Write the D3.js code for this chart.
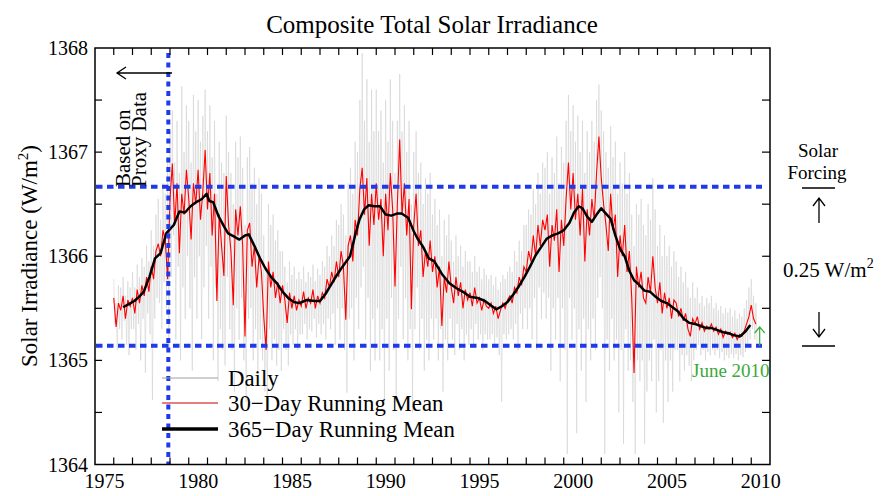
<!DOCTYPE html>
<html><head><meta charset="utf-8">
<script src="https://cdn.jsdelivr.net/npm/d3@7"></script>
<style>
body{margin:0;background:#fff}
svg{display:block}
text{font-family:"Liberation Serif","Times New Roman",serif;fill:#000}
</style>
</head><body>
<svg id="chart" width="884" height="496"></svg>
<script>
// ---------------- data ----------------
const xLabelYears = [1975, 1980, 1985, 1990, 1995, 2000, 2005, 2010];
const yLabelValues = [1364, 1365, 1366, 1367, 1368];
const titleText = "Composite Total Solar Irradiance";
const legendLabels = ["Daily", "30\u2212Day Running Mean", "365\u2212Day Running Mean"];

// samples of 30-day running mean and daily high/low, every 1/8 year from 1976.0
const sampleStart = 1976.0;
const sampleStep = 0.125;
const runMean30 = [
1365.60,1365.32,1365.55,1365.48,1365.62,1365.40,1365.58,1365.52,
1365.60,1365.45,1365.68,1365.55,1365.72,1365.62,1365.80,1365.66,
1365.90,1365.78,1366.05,1366.12,1366.00,1366.25,1366.15,1365.78,
1366.55,1366.89,1366.30,1366.70,1366.03,1366.60,1366.40,1366.83,
1366.55,1366.16,1366.70,1366.50,1366.83,1366.35,1366.62,1367.02,
1366.45,1366.80,1366.20,1366.60,1365.57,1366.40,1366.10,1365.81,
1366.77,1366.30,1366.05,1365.53,1366.45,1366.20,1366.48,1366.10,
1365.23,1366.25,1366.32,1365.90,1366.10,1365.70,1366.00,1365.85,
1365.42,1365.10,1365.95,1365.70,1365.85,1365.60,1365.75,1365.55,
1365.72,1365.58,1365.36,1365.65,1365.50,1365.62,1365.48,1365.58,
1365.52,1365.66,1365.50,1365.60,1365.55,1365.68,1365.50,1365.62,
1365.55,1365.65,1365.60,1365.78,1365.70,1365.85,1365.75,1365.95,
1365.80,1366.05,1365.90,1365.39,1366.10,1366.20,1365.95,1366.35,
1366.20,1366.65,1366.85,1366.40,1366.75,1366.10,1366.60,1366.30,
1366.70,1366.35,1366.55,1366.00,1366.60,1366.25,1366.80,1366.45,
1365.71,1366.50,1367.12,1366.40,1366.70,1366.20,1366.55,1365.49,
1366.30,1366.60,1366.10,1366.25,1365.80,1366.05,1365.90,1366.15,
1365.85,1366.00,1365.70,1365.90,1365.33,1365.80,1365.65,1365.95,
1365.70,1365.55,1365.80,1365.62,1365.75,1365.50,1365.68,1365.58,
1365.65,1365.52,1365.70,1365.55,1365.60,1365.48,1365.58,1365.52,
1365.50,1365.55,1365.45,1365.52,1365.40,1365.48,1365.55,1365.50,
1365.58,1365.62,1365.55,1365.70,1365.65,1365.80,1365.72,1365.90,
1365.85,1366.05,1365.95,1366.20,1366.00,1366.30,1366.10,1366.35,
1366.25,1366.40,1365.90,1366.30,1366.15,1366.45,1365.85,1366.35,
1366.10,1366.55,1366.90,1366.45,1366.80,1366.35,1366.60,1366.20,
1366.65,1365.95,1366.45,1366.20,1366.55,1366.35,1366.80,1367.15,
1366.75,1366.50,1366.30,1366.05,1366.60,1366.25,1366.40,1365.80,
1366.20,1366.00,1366.30,1365.85,1366.05,1365.60,1364.88,1365.90,
1365.70,1365.85,1365.60,1365.55,1365.80,1365.65,1366.00,1365.70,
1365.55,1365.75,1365.45,1365.65,1365.50,1365.60,1365.40,1365.58,
1365.55,1365.42,1365.50,1365.38,1365.45,1365.30,1365.23,1365.40,
1365.35,1365.42,1365.30,1365.36,1365.28,1365.33,1365.30,1365.35,
1365.28,1365.32,1365.25,1365.30,1365.22,1365.28,1365.25,1365.27,
1365.22,1365.26,1365.20,1365.25,1365.23,1365.28,1365.35,1365.42,
1365.53,1365.40,1365.35
];
const dailyHigh = [
1365.78,1365.55,1365.72,1365.70,1365.80,1365.62,1365.76,1365.70,
1365.85,1365.70,1365.92,1365.80,1365.98,1365.90,1366.10,1365.95,
1366.25,1366.10,1366.40,1366.55,1366.35,1366.70,1366.60,1366.95,
1367.20,1367.40,1366.90,1367.30,1366.80,1367.63,1367.00,1367.45,
1367.30,1366.90,1367.55,1367.20,1367.50,1367.10,1367.35,1367.60,
1367.20,1367.45,1366.95,1367.30,1366.60,1367.10,1366.90,1366.80,
1367.35,1367.00,1366.80,1366.50,1367.10,1366.95,1367.15,1366.85,
1366.30,1366.95,1367.05,1366.70,1366.85,1366.50,1366.75,1366.60,
1366.20,1365.90,1366.50,1366.30,1366.40,1366.15,1366.25,1366.05,
1366.05,1365.90,1365.75,1365.95,1365.82,1365.90,1365.78,1365.85,
1365.78,1365.90,1365.75,1365.85,1365.80,1365.92,1365.76,1365.88,
1365.82,1365.95,1365.90,1366.10,1366.00,1366.20,1366.10,1366.35,
1366.30,1366.50,1366.40,1366.20,1366.70,1366.85,1366.60,1367.10,
1367.00,1367.50,1367.95,1367.30,1367.70,1367.10,1367.60,1367.20,
1367.60,1367.20,1367.40,1366.90,1367.50,1367.10,1367.70,1367.30,
1366.80,1367.30,1367.75,1367.20,1367.45,1367.00,1367.30,1366.50,
1367.00,1367.20,1366.80,1366.90,1366.50,1366.75,1366.60,1366.80,
1366.40,1366.55,1366.30,1366.45,1366.00,1366.35,1366.20,1366.40,
1366.15,1365.95,1366.20,1366.00,1366.10,1365.90,1366.05,1365.95,
1365.95,1365.85,1366.00,1365.85,1365.90,1365.78,1365.88,1365.82,
1365.78,1365.82,1365.72,1365.80,1365.68,1365.75,1365.82,1365.78,
1365.85,1365.90,1365.85,1366.05,1365.95,1366.15,1366.05,1366.30,
1366.30,1366.45,1366.40,1366.65,1366.50,1366.80,1366.60,1366.90,
1366.85,1367.00,1366.60,1366.95,1366.80,1367.15,1366.70,1367.05,
1366.90,1367.30,1367.55,1367.20,1367.45,1367.10,1367.35,1367.00,
1367.30,1366.80,1367.20,1367.00,1367.30,1367.10,1367.50,1367.65,
1367.40,1367.20,1367.00,1366.85,1367.25,1366.95,1367.10,1366.60,
1366.90,1366.70,1367.00,1366.60,1366.80,1366.40,1366.10,1366.50,
1366.40,1366.55,1366.30,1366.20,1366.50,1366.35,1366.75,1366.45,
1366.10,1366.30,1366.00,1366.20,1366.00,1366.10,1365.90,1366.05,
1365.95,1365.80,1365.90,1365.75,1365.85,1365.70,1365.60,1365.75,
1365.60,1365.70,1365.55,1365.62,1365.52,1365.60,1365.55,1365.62,
1365.50,1365.55,1365.48,1365.52,1365.45,1365.50,1365.46,1365.50,
1365.42,1365.48,1365.40,1365.45,1365.42,1365.50,1365.58,1365.70,
1365.78,1365.62,1365.55
];
const dailyLow = [
1365.35,1365.10,1365.30,1365.20,1365.38,1365.15,1365.05,1365.30,
1365.30,1365.10,1365.35,1365.00,1365.40,1364.88,1365.45,1365.25,
1364.62,1365.40,1365.60,1365.55,1365.30,1365.75,1365.50,1365.10,
1365.80,1366.20,1365.20,1365.90,1365.00,1365.70,1365.40,1366.00,
1365.50,1364.90,1365.80,1365.40,1366.00,1365.20,1365.70,1366.10,
1365.40,1365.90,1365.00,1365.70,1364.80,1365.30,1365.10,1364.95,
1365.80,1365.30,1365.10,1364.70,1365.50,1365.20,1365.60,1365.00,
1364.60,1365.40,1365.50,1365.00,1365.30,1364.90,1365.20,1365.00,
1364.70,1364.50,1365.30,1365.00,1365.20,1364.95,1365.10,1364.90,
1365.30,1365.10,1364.95,1365.25,1365.15,1365.30,1365.10,1365.25,
1365.25,1365.35,1365.20,1365.30,1365.28,1365.40,1365.22,1365.35,
1365.25,1365.35,1365.20,1365.40,1365.30,1365.45,1365.15,1365.50,
1365.20,1365.50,1365.10,1364.69,1365.40,1365.50,1365.00,1365.60,
1365.30,1365.70,1365.90,1365.20,1365.60,1364.90,1365.40,1365.00,
1365.50,1365.00,1365.30,1364.60,1365.40,1364.90,1365.60,1365.10,
1364.60,1365.40,1365.90,1365.20,1365.60,1365.00,1365.30,1364.50,
1365.30,1365.70,1365.10,1365.40,1364.90,1365.20,1365.00,1365.40,
1365.20,1365.40,1365.00,1365.30,1364.70,1365.20,1365.00,1365.40,
1365.20,1365.05,1365.35,1365.10,1365.30,1365.00,1365.25,1365.15,
1365.30,1365.15,1365.35,1365.20,1365.25,1365.10,1365.25,1365.20,
1365.20,1365.25,1365.15,1365.22,1365.05,1364.60,1365.25,1365.20,
1365.25,1365.30,1365.20,1365.35,1365.10,1365.45,1365.30,1365.50,
1365.30,1365.50,1365.20,1365.60,1365.10,1365.70,1365.40,1365.65,
1365.40,1365.60,1364.90,1365.50,1365.20,1365.60,1364.80,1365.50,
1365.10,1364.10,1365.60,1365.20,1365.50,1364.30,1365.30,1364.90,
1365.40,1364.60,1365.30,1365.00,1365.40,1365.10,1365.60,1365.80,
1365.50,1364.10,1365.20,1364.90,1365.40,1365.00,1365.20,1364.50,
1365.10,1364.20,1365.30,1364.90,1365.00,1364.60,1364.10,1365.00,
1364.80,1365.00,1364.20,1364.70,1365.00,1364.80,1365.20,1364.50,
1364.80,1365.10,1364.40,1365.00,1364.60,1365.00,1364.70,1365.10,
1365.10,1364.80,1365.05,1364.90,1365.05,1364.95,1364.80,1365.00,
1365.10,1365.15,1365.05,1365.10,1365.00,1365.08,1365.05,1365.10,
1365.05,1365.10,1365.02,1365.08,1365.00,1365.05,1365.02,1365.06,
1365.02,1365.06,1365.00,1365.05,1365.03,1365.08,1365.15,1365.20,
1365.30,1365.20,1365.15
];

// 365-day running mean
const mean365Years = [1976.5,1976.8,1977.1,1977.4,1977.6,1977.9,1978.2,1978.5,1978.8,1979.0,1979.2,1979.5,1979.8,1980.1,1980.4,1980.7,1980.95,1981.1,1981.3,1981.6,1981.9,1982.1,1982.4,1982.7,1983.0,1983.2,1983.5,1983.8,1984.1,1984.4,1984.7,1985.0,1985.3,1985.6,1985.9,1986.3,1986.7,1987.0,1987.3,1987.6,1987.9,1988.2,1988.6,1988.9,1989.1,1989.35,1989.6,1989.9,1990.2,1990.5,1990.8,1991.1,1991.35,1991.7,1992.0,1992.2,1992.5,1992.8,1993.1,1993.5,1993.9,1994.3,1994.7,1995.0,1995.4,1995.8,1996.1,1996.4,1996.7,1997.0,1997.3,1997.6,1997.9,1998.2,1998.5,1998.8,1999.1,1999.4,1999.7,2000.0,2000.3,2000.55,2000.8,2001.0,2001.25,2001.5,2001.75,2002.0,2002.25,2002.5,2002.75,2003.0,2003.25,2003.5,2003.75,2004.0,2004.3,2004.6,2004.9,2005.2,2005.5,2005.8,2006.1,2006.4,2006.7,2007.0,2007.3,2007.6,2007.9,2008.2,2008.5,2008.8,2009.1,2009.4,2009.7,2009.95];
const mean365Values = [1365.51,1365.54,1365.57,1365.62,1365.66,1365.80,1365.98,1366.03,1366.22,1366.26,1366.30,1366.43,1366.42,1366.48,1366.52,1366.55,1366.60,1366.53,1366.52,1366.38,1366.28,1366.22,1366.19,1366.16,1366.20,1366.21,1366.10,1365.98,1365.88,1365.80,1365.74,1365.66,1365.60,1365.56,1365.55,1365.58,1365.57,1365.57,1365.64,1365.73,1365.82,1365.90,1366.00,1366.22,1366.35,1366.45,1366.49,1366.48,1366.48,1366.40,1366.39,1366.41,1366.41,1366.37,1366.24,1366.17,1366.09,1365.98,1365.95,1365.83,1365.74,1365.69,1365.65,1365.61,1365.60,1365.57,1365.53,1365.49,1365.52,1365.56,1365.63,1365.71,1365.80,1365.90,1366.01,1366.09,1366.17,1366.20,1366.22,1366.25,1366.32,1366.42,1366.48,1366.46,1366.38,1366.33,1366.40,1366.46,1366.41,1366.36,1366.20,1366.07,1366.00,1365.86,1365.77,1365.73,1365.67,1365.66,1365.61,1365.57,1365.55,1365.51,1365.47,1365.40,1365.36,1365.35,1365.33,1365.31,1365.31,1365.29,1365.27,1365.26,1365.24,1365.23,1365.28,1365.34];

// reference lines
const proxyEndYear = 1978.91;
const forcingHigh = 1366.667;
const forcingLow = 1365.14;
const juneYear = 2010.45;

// ---------------- chart ----------------
const svg = d3.select("#chart");
const L = 95, R = 770, T = 48, B = 464.5;
const x = d3.scaleLinear().domain([1975, 2011]).range([L, R]);
const y = d3.scaleLinear().domain([1364, 1368]).range([B, T]);

svg.append("defs").append("clipPath").attr("id", "clip")
  .append("rect").attr("x", L).attr("y", T).attr("width", R - L).attr("height", B - T);

const plot = svg.append("g").attr("clip-path", "url(#clip)");

// daily: zigzag between high and low samples
const dailyPts = [];
dailyHigh.forEach((h, i) => {
  const t = sampleStart + i * sampleStep;
  dailyPts.push([t, h]);
  dailyPts.push([t + sampleStep / 2, dailyLow[i]]);
});
const line = d3.line().x(d => x(d[0])).y(d => y(d[1]));
plot.append("path").attr("d", line(dailyPts))
  .attr("fill", "none").attr("stroke", "#cfcfcf").attr("stroke-width", 0.55);

const redPts = runMean30.map((v, i) => [sampleStart + i * sampleStep, v]);
plot.append("path").attr("d", line(redPts))
  .attr("fill", "none").attr("stroke", "#ff0000").attr("stroke-width", 1.1);

const blackPts = mean365Years.map((t, i) => [t, mean365Values[i]]);
plot.append("path").attr("d", line(blackPts))
  .attr("fill", "none").attr("stroke", "#000").attr("stroke-width", 2.5)
  .attr("stroke-linejoin", "round");

// blue dotted lines
const blue = "#1f3ae6";
svg.append("line").attr("x1", x(proxyEndYear)).attr("x2", x(proxyEndYear))
  .attr("y1", T + 5).attr("y2", B)
  .attr("stroke", blue).attr("stroke-width", 4).attr("stroke-dasharray", "5,4.5");
[forcingHigh, forcingLow].forEach(v => {
  svg.append("line").attr("x1", L + 1).attr("x2", R - 8)
    .attr("y1", y(v)).attr("y2", y(v))
    .attr("stroke", blue).attr("stroke-width", 4).attr("stroke-dasharray", "6.5,4.5");
});

// frame
svg.append("rect").attr("x", L).attr("y", T).attr("width", R - L).attr("height", B - T)
  .attr("fill", "none").attr("stroke", "#000").attr("stroke-width", 1.5);

// ticks
const axisG = svg.append("g").attr("stroke", "#000").attr("stroke-width", 1.2);
d3.range(1976, 2011).forEach(yr => {
  axisG.append("line").attr("x1", x(yr)).attr("x2", x(yr)).attr("y1", B).attr("y2", B - 7);
  axisG.append("line").attr("x1", x(yr)).attr("x2", x(yr)).attr("y1", T).attr("y2", T + 7);
});
d3.range(1364.5, 1368, 0.5).forEach(v => {
  axisG.append("line").attr("x1", L).attr("x2", L + 7).attr("y1", y(v)).attr("y2", y(v));
  axisG.append("line").attr("x1", R).attr("x2", R - 8).attr("y1", y(v)).attr("y2", y(v));
});

// tick labels
svg.selectAll(".xl").data(xLabelYears).enter().append("text")
  .attr("x", d => x(d + 0.5)).attr("y", 488).attr("text-anchor", "middle")
  .attr("font-size", 20).text(d => d);
svg.selectAll(".yl").data(yLabelValues).enter().append("text")
  .attr("x", 88).attr("y", d => y(d) + 7).attr("text-anchor", "end")
  .attr("font-size", 20).text(d => d);

// title
svg.append("text").attr("x", 432).attr("y", 33).attr("text-anchor", "middle")
  .attr("font-size", 25).text(titleText);

// y label
const yl = svg.append("text").attr("transform", "translate(37,256) rotate(-90)")
  .attr("text-anchor", "middle").attr("font-size", 23);
yl.append("tspan").text("Solar Irradiance (W/m");
yl.append("tspan").attr("font-size", 15).attr("dy", -9).text("2");
yl.append("tspan").attr("dy", 9).text(")");

// proxy annotation
svg.append("path").attr("d", "M172,73H117M126,67L117,73L126,79")
  .attr("fill", "none").attr("stroke", "#000").attr("stroke-width", 1.3);
svg.append("text").attr("transform", "translate(130,187) rotate(-90)")
  .attr("font-size", 21).text("Based on");
svg.append("text").attr("transform", "translate(146,187) rotate(-90)")
  .attr("font-size", 21).text("Proxy Data");

// legend
const legColors = ["#a0a0a0", "#cc0000", "#000"];
const legWidths = [1, 1.2, 3.5];
const legY = [378, 403, 429];
legendLabels.forEach((lab, i) => {
  svg.append("line").attr("x1", 162).attr("x2", 218).attr("y1", legY[i]).attr("y2", legY[i])
    .attr("stroke", legColors[i]).attr("stroke-width", legWidths[i]);
  svg.append("text").attr("x", 228).attr("y", legY[i] + 8).attr("font-size", 22.8).text(lab);
});

// right annotation
svg.append("text").attr("x", 818).attr("y", 157).attr("text-anchor", "middle").attr("font-size", 19).text("Solar");
svg.append("text").attr("x", 817).attr("y", 179).attr("text-anchor", "middle").attr("font-size", 19).text("Forcing");
svg.append("path")
  .attr("d", "M802,188H835M819,223V198M813,206L819,198L825,206M819,312V337M813,329L819,337L825,329M802,346H835")
  .attr("fill", "none").attr("stroke", "#000").attr("stroke-width", 1.3);
const fr = svg.append("text").attr("x", 783).attr("y", 277).attr("font-size", 21);
fr.append("tspan").text("0.25 W/m");
fr.append("tspan").attr("font-size", 14).attr("dy", -9).text("2");

// June 2010
const green = "#3aaa3a";
svg.append("path").attr("d", `M${x(juneYear)},346V327M${x(juneYear) - 5},333L${x(juneYear)},327L${x(juneYear) + 5},333`)
  .attr("fill", "none").attr("stroke", green).attr("stroke-width", 1.2);
svg.append("text").attr("x", 692).attr("y", 377).attr("font-size", 19)
  .style("fill", green).text("June 2010");
</script>
</body></html>
